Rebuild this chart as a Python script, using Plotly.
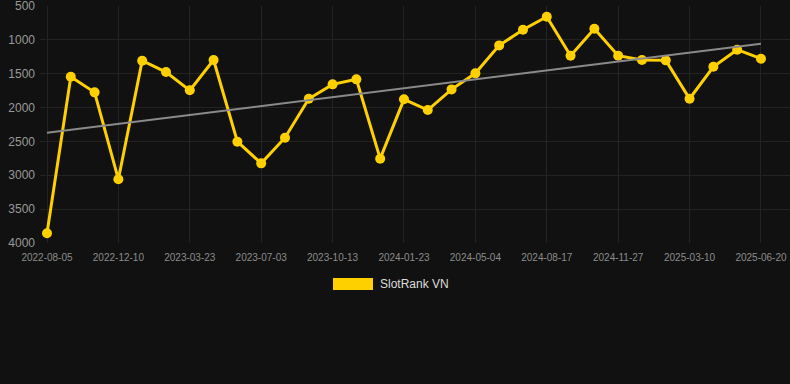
import plotly.graph_objects as go

dates = [
    "2022-08-05", "2022-09-16", "2022-10-28", "2022-12-10", "2023-01-13", "2023-02-16",
    "2023-03-23", "2023-04-26", "2023-05-30", "2023-07-03", "2023-08-06", "2023-09-09",
    "2023-10-13", "2023-11-16", "2023-12-20", "2024-01-23", "2024-02-26", "2024-03-31",
    "2024-05-04", "2024-06-08", "2024-07-13", "2024-08-17", "2024-09-20", "2024-10-24",
    "2024-11-27", "2024-12-31", "2025-02-03", "2025-03-10", "2025-04-13", "2025-05-17",
    "2025-06-20",
]
ranks = [
    3858, 1544, 1775, 3060, 1308, 1475, 1745, 1297, 2504, 2824, 2445,
    1869, 1657, 1583, 2755, 1878, 2036, 1731, 1494, 1081, 850, 658,
    1234, 835, 1234, 1297, 1302, 1869, 1397, 1145, 1278,
]
trend_values = [2371, 1057]
y_ticks = [500, 1000, 1500, 2000, 2500, 3000, 3500, 4000]
series_name = "SlotRank VN"

gold = "#FFD000"
bg = "#111111"
grid = "#232323"

fig = go.Figure()
fig.add_trace(go.Scatter(
    x=dates, y=ranks, mode="lines+markers", name=series_name,
    line=dict(color=gold, width=3),
    marker=dict(color=gold, size=10),
    showlegend=False, hoverinfo="x+y",
))
fig.add_trace(go.Scatter(
    x=[dates[0], dates[-1]], y=trend_values, mode="lines",
    line=dict(color="#8a8a8a", width=2),
    showlegend=False, hoverinfo="skip",
))

fig.update_layout(
    width=790, height=384,
    margin=dict(l=40, r=0, t=6, b=141),
    paper_bgcolor=bg, plot_bgcolor=bg,
    font=dict(family="Liberation Sans, Arial, sans-serif", color="#999999"),
    xaxis=dict(
        type="category", range=[-0.294, 31.22],
        tickvals=dates[::3], ticktext=dates[::3],
        showgrid=True, gridcolor=grid, gridwidth=1,
        zeroline=False, showline=False,
        ticks="outside", ticklen=5, tickcolor=bg,
        tickfont=dict(size=10, color="#8c8c8c"),
    ),
    yaxis=dict(
        range=[4001, 499], tickvals=y_ticks,
        showgrid=True, gridcolor=grid, gridwidth=1,
        zeroline=False, showline=False, ticks="",
        tickfont=dict(size=12, color="#999999"),
        ticklabelstandoff=4, ticklabeloverflow="allow",
    ),
    shapes=[dict(
        type="rect", xref="paper", yref="paper",
        x0=(333 - 40) / 750, x1=(373 - 40) / 750,
        y0=(384 - 141 - 290) / 237, y1=(384 - 141 - 278) / 237,
        fillcolor=gold, line=dict(width=0),
    )],
    annotations=[dict(
        text=series_name, xref="paper", yref="paper",
        x=(378 - 40) / 750, y=(384 - 141 - 284) / 237,
        xanchor="left", yanchor="middle", showarrow=False,
        font=dict(size=12, color="#dddddd"),
    )],
)

fig.write_html(
    "out.html",
    config={"displayModeBar": False},
    post_script="document.body.style.margin='0';document.body.style.background='#111111';",
)
